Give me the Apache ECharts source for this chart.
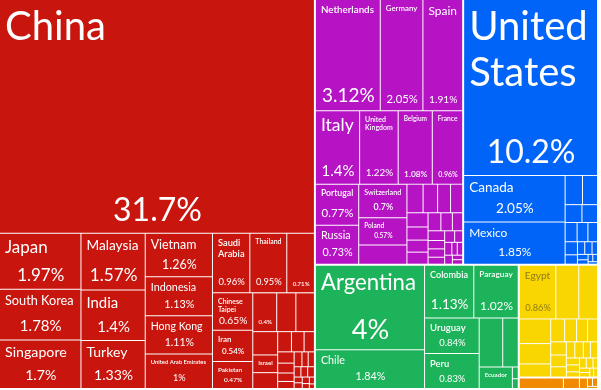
<!DOCTYPE html>
<html><head><meta charset="utf-8">
<script src="https://cdn.jsdelivr.net/npm/echarts@6/dist/echarts.min.js"></script>
<style>html,body{margin:0;padding:0;background:#fff;}#c{width:601px;height:390px;}</style>
</head><body><div id="c"></div>
<script>
// ---- data (shares of total, %) ----
const continents = ['Asia', 'Europe', 'North America', 'South America', 'Africa', 'Oceania'];

const asiaNames = ['China','Japan','South Korea','Singapore','Malaysia','India','Turkey','Vietnam','Indonesia','Hong Kong','United Arab Emirates','Saudi Arabia','Thailand','Bangladesh','Chinese Taipei','Iran','Pakistan','Philippines','Iraq','Oman','Lebanon','Israel','Qatar','Kuwait','Jordan','Sri Lanka','Syria','Yemen','Bahrain','Georgia','Myanmar','Kazakhstan','Cambodia','Uzbekistan','Azerbaijan','Nepal','Mongolia','Afghanistan','Brunei','Armenia','Maldives','Kyrgyzstan'];
const asiaValues = [31.7,1.97,1.78,1.7,1.57,1.4,1.33,1.26,1.13,1.11,1.0,0.96,0.95,0.71,0.65,0.54,0.47,0.4,0.32,0.31,0.25,0.19,0.17,0.12,0.11,0.09,0.08,0.07,0.06,0.05,0.05,0.04,0.04,0.03,0.03,0.03,0.02,0.02,0.02,0.015,0.015,0.01];

const europeNames = ['Netherlands','Germany','Spain','Italy','United Kingdom','Belgium','France','Portugal','Russia','Switzerland','Poland','Norway','Denmark','Sweden','Greece','Ireland','Romania','Slovenia','Finland','Austria','Ukraine','Malta','Lithuania','Czechia','Bulgaria','Croatia','Hungary','Latvia','Estonia','Slovakia','Belarus','Cyprus','Serbia','Luxembourg','Iceland'];
const europeValues = [3.124,2.054,1.914,1.404,1.224,1.084,0.964,0.77,0.73,0.7,0.57,0.4,0.2,0.18,0.16,0.15,0.13,0.12,0.11,0.11,0.1,0.09,0.08,0.07,0.06,0.06,0.05,0.05,0.04,0.04,0.03,0.03,0.03,0.02,0.02];

const northAmericaNames = ['United States','Canada','Mexico','Dominican Republic','Panama','Guatemala','Cuba','Costa Rica','Puerto Rico','Trinidad and Tobago','Honduras','Jamaica','El Salvador','Nicaragua','Haiti','Bahamas','Barbados','Belize','Curaçao','Aruba'];
const northAmericaValues = [10.2,2.05,1.85,0.22,0.19,0.13,0.12,0.1,0.09,0.08,0.07,0.05,0.04,0.04,0.03,0.025,0.02,0.015,0.015,0.01];

const southAmericaNames = ['Argentina','Chile','Colombia','Paraguay','Uruguay','Peru','Bolivia','Venezuela','Ecuador','Guyana','Suriname'];
const southAmericaValues = [4,1.84,1.13,1.02,0.84,0.83,0.5,0.33,0.31,0.03,0.025];

const africaNames = ['Egypt','Algeria','Morocco','South Africa','Nigeria','Angola','Senegal','Ghana','Libya','Tunisia','Mauritania','Ivory Coast','Cameroon','Kenya','Togo','Benin','Mozambique','Sudan','Liberia','Gambia','Guinea','Cape Verde','Equatorial Guinea','Tanzania','Gabon','Djibouti','Sierra Leone'];
const africaValues = [0.86,0.54,0.44,0.34,0.28,0.18,0.14,0.12,0.11,0.1,0.09,0.08,0.07,0.06,0.06,0.05,0.05,0.04,0.04,0.03,0.03,0.03,0.02,0.02,0.02,0.015,0.015];

const oceaniaNames = ['Australia','New Zealand','Papua New Guinea','Fiji','New Caledonia','French Polynesia'];
const oceaniaValues = [0.22,0.08,0.04,0.02,0.02,0.01];

// ---- styles ----
const groupNames = [asiaNames, europeNames, northAmericaNames, southAmericaNames, africaNames, oceaniaNames];
const groupValues = [asiaValues, europeValues, northAmericaValues, southAmericaValues, africaValues, oceaniaValues];
const continentColors = ['#C8150E', '#B613C4', '#0064F8', '#1DB35A', '#F9D600', '#F28A00'];
const textColors = ['#ffffff', '#ffffff', '#ffffff', '#ffffff', 'rgba(70,60,40,0.6)', 'rgba(70,60,40,0.6)'];
const quietCells = ['Norway', 'Bolivia', 'Venezuela', 'Algeria', 'Morocco', 'South Africa', 'Nigeria', 'Angola', 'Iraq', 'Oman', 'Lebanon', 'Dominican Republic', 'Panama'];
const FONT = 'Lato, "Noto Sans", sans-serif';

const ctx = document.createElement('canvas').getContext('2d');
function tw(text, weight) { ctx.font = weight + ' 100px ' + FONT; return ctx.measureText(text).width / 100; }
function fmtPct(v) { return String(v < 1 ? parseFloat(v.toFixed(2)) : parseFloat(v.toPrecision(3))) + '%'; }
function splitLines(words, k) {
  if (k === 1) return [words.join(' ')];
  let best = null, bestW = Infinity;
  if (k === 2) {
    for (let i = 1; i < words.length; i++) {
      const ls = [words.slice(0, i).join(' '), words.slice(i).join(' ')];
      const w = Math.max(...ls.map(s => tw(s, 400)));
      if (w < bestW) { bestW = w; best = ls; }
    }
  } else {
    for (let i = 1; i < words.length - 1; i++) for (let j = i + 1; j < words.length; j++) {
      const ls = [words.slice(0, i).join(' '), words.slice(i, j).join(' '), words.slice(j).join(' ')];
      const w = Math.max(...ls.map(s => tw(s, 400)));
      if (w < bestW) { bestW = w; best = ls; }
    }
  }
  return best;
}

function makeLabel(name, value, lay, ci) {
  if (!lay || quietCells.indexOf(name) >= 0) return { show: false };
  const PL = 5, PR = 4, PT = 4, PB = 4;
  const w = lay.width, h = lay.height;
  const iw = w - PL - PR, ih = h - PT - PB;
  if (iw < 6 || ih < 5) return { show: false };
  const pct = fmtPct(value);
  const color = textColors[ci];
  const pW = tw(pct, 400);
  let fp = Math.min(32, 0.96 * iw / pW, ih * 0.36);
  let showP = fp >= 5.5;
  const words = name.split(' ');
  function bestName(reserve, hFrac) {
    let best = { fs: 0, lines: [name] };
    for (let k = 1; k <= Math.min(3, words.length); k++) {
      const lines = splitLines(words, k);
      const wEm = Math.max(...lines.map(s => tw(s, 400)));
      let fs = Math.min(40, 0.96 * iw / wEm, ih * hFrac, (ih - reserve) / (k * 1.15));
      if (fs > best.fs + 0.5) best = { fs, lines };
    }
    return best;
  }
  let nm = bestName(showP ? fp * 1.2 : 0, 0.36);
  let showN = nm.fs >= 5.5;
  if (!showN && showP) {
    fp = Math.min(32, 0.96 * iw / pW, ih * 0.5);
    showP = fp >= 5.5;
  }
  if (!showP) {
    nm = bestName(0, 0.8);
    showN = nm.fs >= 6;
  }
  if (!showN && !showP) return { show: false };
  const fs = nm.fs;
  const nLH = Math.round(fs * 1.15);
  const rich = {};
  let parts = [];
  let used = 0;
  if (showN) {
    rich.n = { fontSize: fs, lineHeight: nLH, color, fontFamily: FONT, fontWeight: fs < 10 ? 600 : 400, align: 'left' };
    parts = nm.lines.map(l => '{n|' + l + '}');
    used = nm.lines.length * nLH;
  }
  if (showP) {
    const L = Math.max(Math.floor(ih - used - 1), Math.ceil(fp * 1.1));
    rich.p = { fontSize: fp, lineHeight: L, color, fontFamily: FONT, fontWeight: fp < 9 ? 600 : 400, align: 'center', verticalAlign: 'bottom' };
    parts.push('{p|' + pct + '}');
  }
  return { show: true, position: 'insideTopLeft', padding: [PT, PR, PB, PL], formatter: parts.join('\n'), rich, overflow: 'none' };
}

function buildData(layouts) {
  return continents.map((c, ci) => ({
    name: c,
    itemStyle: { color: continentColors[ci] },
    children: groupNames[ci].map((n, i) => ({
      name: n,
      value: groupValues[ci][i],
      itemStyle: { color: continentColors[ci] },
      label: layouts ? makeLabel(n, groupValues[ci][i], layouts[c + '|' + n], ci) : { show: false }
    }))
  }));
}

function seriesOpt(data) {
  return {
    type: 'treemap', left: 0, top: 0, width: 597, height: 388,
    roam: false, nodeClick: false, breadcrumb: { show: false },
    label: { show: false }, upperLabel: { show: false },
    itemStyle: { borderColor: '#fff' },
    levels: [
      { itemStyle: { borderWidth: 0, gapWidth: 2 } },
      { itemStyle: { borderWidth: 0, gapWidth: 1 } },
      { itemStyle: { borderWidth: 0 } }
    ],
    data
  };
}

const chart = echarts.init(document.getElementById('c'), null, { renderer: 'canvas' });
chart.setOption({ animation: false, series: [seriesOpt(buildData(null))] });

const layouts = {};
try {
  const sd = chart.getModel().getSeriesByIndex(0).getData();
  sd.tree.root.eachNode(node => {
    if (node.depth === 2) layouts[node.parentNode.name + '|' + node.name] = node.getLayout();
  });
} catch (e) { console.error(e); }
chart.setOption({ animation: false, series: [seriesOpt(buildData(layouts))] }, { notMerge: true });
</script></body></html>
